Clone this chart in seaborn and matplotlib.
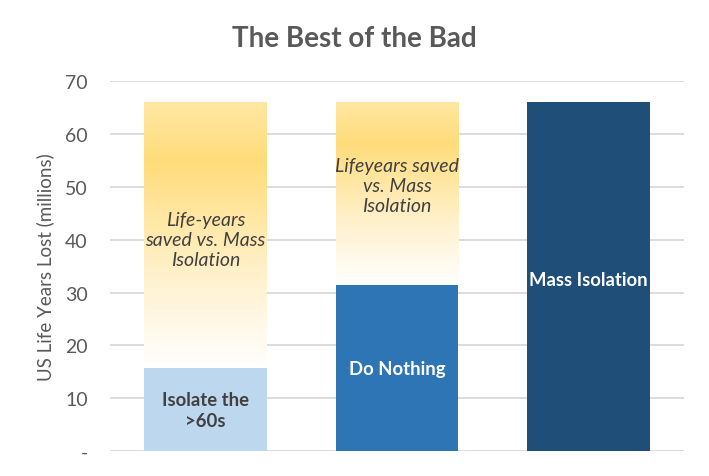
import numpy as np
import matplotlib.pyplot as plt
import seaborn as sns
from matplotlib.colors import LinearSegmentedColormap

categories = ["Isolate the >60s", "Do Nothing", "Mass Isolation"]
lost = [15.7, 31.5, 66.0]          # life years lost (millions)
saved = [50.3, 34.5, 0.0]          # life years saved vs. mass isolation
bar_labels = ["Isolate the\n>60s", "Do Nothing", "Mass Isolation"]
saved_labels = ["Life-years\nsaved vs. Mass\nIsolation", "Lifeyears saved\nvs. Mass\nIsolation", ""]
saved_label_y = [40.0, 50.3]
bar_colors = ["#BDD7EE", "#2E75B6", "#1F4E79"]
label_colors = ["#404040", "white", "white"]

sns.set_style("white")
plt.rcParams['font.family'] = ['Lato', 'DejaVu Sans']

fig = plt.figure(figsize=(7.09, 4.77), dpi=100)
ax = fig.add_axes([0.155, 0.052, 0.81, 0.776])

totals = [a + b for a, b in zip(lost, saved)]

# full height bars, filled with a gradient for the "saved" segment
sns.barplot(x=categories, y=totals, ax=ax, width=0.64, color="none", linewidth=0)
gold = LinearSegmentedColormap.from_list(
    "gold", [(0.0, "#FFFFFF"), (0.35, "#FFF1CC"), (0.78, "#FFDC7A"), (1.0, "#FFE7A3")])
grad = np.linspace(0, 1, 256).reshape(-1, 1)
for i, p in enumerate(ax.patches[:len(categories)]):
    if saved[i] <= 0:
        continue
    x0 = p.get_x()
    x1 = x0 + p.get_width()
    im = ax.imshow(grad, cmap=gold, origin="lower", aspect="auto",
                   extent=(x0, x1, lost[i], totals[i]), zorder=1)
    im.set_clip_path(p)

sns.barplot(x=categories, y=lost, ax=ax, width=0.64, palette=bar_colors,
            hue=categories, legend=False, linewidth=0, saturation=1, zorder=2)

ax.set_xlim(-0.5, 2.5)
ax.set_ylim(0, 70)
ax.set_yticks(range(0, 80, 10))
ax.set_yticklabels(["-"] + [str(v) for v in range(10, 80, 10)])
ax.set_xticks([])
ax.yaxis.grid(True, color="#D9D9D9", linewidth=1.3)
ax.set_axisbelow(True)
for s in ax.spines.values():
    s.set_visible(False)
ax.tick_params(axis="y", length=0, labelsize=14, labelcolor="#595959", pad=16)
ax.set_ylabel("US Life Years Lost (millions)", fontsize=13.5, color="#595959", labelpad=8)

# labels inside bars
label_y = [7.8, 15.7, 32.5]
for i, txt in enumerate(bar_labels):
    ax.text(i, label_y[i], txt, ha="center", va="center", fontsize=13.3,
            fontweight="bold", color=label_colors[i], linespacing=1.35, zorder=3)
for i, y in enumerate(saved_label_y):
    ax.text(i, y, saved_labels[i], ha="center", va="center", fontsize=14,
            style="italic", color="#404040", linespacing=1.2, zorder=3)

fig.suptitle("The Best of the Bad", x=0.5, y=0.945, fontsize=20,
             fontweight="bold", color="#595959")

fig.savefig("out.png", dpi=100)
